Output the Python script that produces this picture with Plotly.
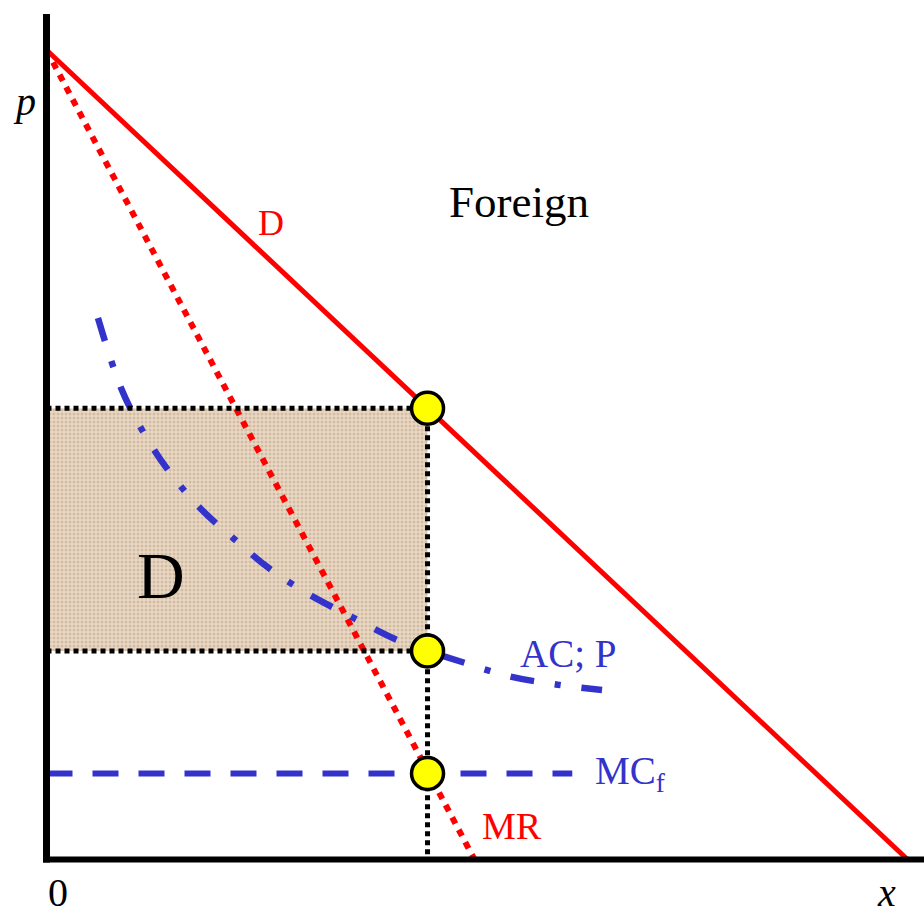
import plotly.graph_objects as go

# ---------------- data (economic units) ----------------
demand_x = [0.0, 10.0]
demand_p = [10.0, 0.0]

mr_x = [0.0, 4.97]
mr_p = [10.0, 0.0]

mc_x = [0.0, 6.11]
mc_p = [1.057, 1.057]

ac_x = [0.598, 0.866, 1.110, 1.412, 1.784, 2.167, 2.597, 3.062, 3.550, 4.050, 4.433, 4.829, 5.363, 5.886, 6.456]
ac_p = [6.687, 5.822, 5.303, 4.808, 4.339, 3.968, 3.585, 3.263, 2.991, 2.719, 2.571, 2.435, 2.262, 2.163, 2.089]

q_eq = 4.428
p_eq = 5.572
ac_eq = 2.571
mc_eq = 1.057

eq_x = [q_eq, q_eq, q_eq]
eq_p = [p_eq, ac_eq, mc_eq]

# ---------------- canvas geometry ----------------
W, H = 924, 916
OX, OY = 46.5, 859.0      # pixel position of origin
SX, SY = 86.05, 80.9      # pixels per unit

def px2x(px):
    return (px - OX) / SX

def py2y(py):
    return (OY - py) / SY

RED = "#ff0000"
BLUE = "#3333cc"
FONT = "Liberation Serif, Times New Roman, serif"

fig = go.Figure()

# shaded profit rectangle
fig.add_trace(go.Scatter(
    x=[0, q_eq, q_eq, 0, 0], y=[ac_eq, ac_eq, p_eq, p_eq, ac_eq],
    mode="lines", line=dict(width=0), fill="toself",
    fillcolor="#d8c2ab",
    fillpattern=dict(shape=".", bgcolor="#e9d8c5", fgcolor="#bf9f80",
                     size=4, solidity=0.45),
    hoverinfo="skip", showlegend=False))

# demand
fig.add_trace(go.Scatter(x=demand_x, y=demand_p, mode="lines",
                         line=dict(color=RED, width=5), showlegend=False))
# marginal revenue
fig.add_trace(go.Scatter(x=mr_x, y=mr_p, mode="lines",
                         line=dict(color=RED, width=6, dash="7px,7px"), showlegend=False))
# marginal cost
fig.add_trace(go.Scatter(x=mc_x, y=mc_p, mode="lines",
                         line=dict(color=BLUE, width=6, dash="26px,20px"), showlegend=False))
# average cost
fig.add_trace(go.Scatter(x=ac_x, y=ac_p, mode="lines",
                         line=dict(color=BLUE, width=6.5, dash="24px,21px,6px,21px", shape="spline"),
                         showlegend=False))

# dotted guide lines
dot = dict(color="black", width=5, dash="5px,4px")
fig.add_trace(go.Scatter(x=[0, q_eq], y=[p_eq, p_eq], mode="lines", line=dot, showlegend=False))
fig.add_trace(go.Scatter(x=[0, q_eq], y=[ac_eq, ac_eq], mode="lines", line=dot, showlegend=False))
fig.add_trace(go.Scatter(x=[q_eq, q_eq], y=[p_eq, 0], mode="lines", line=dot, showlegend=False))

# axes
fig.add_trace(go.Scatter(x=[px2x(OX), px2x(OX)], y=[py2y(862.5), py2y(14)], mode="lines",
                         line=dict(color="black", width=7), showlegend=False))
fig.add_trace(go.Scatter(x=[px2x(43), px2x(W + 5)], y=[py2y(859.5), py2y(859.5)], mode="lines",
                         line=dict(color="black", width=6), showlegend=False))

# equilibrium points
fig.add_trace(go.Scatter(x=eq_x, y=eq_p, mode="markers",
                         marker=dict(size=32, color="#ffff00", line=dict(color="black", width=3.5)),
                         showlegend=False))

def label(text, cx, baseline, size, color="black", italic=False, xanchor="center"):
    cy = baseline - 0.3375 * size
    fig.add_annotation(
        x=cx / W, y=1 - cy / H, xref="paper", yref="paper",
        text=f"<i>{text}</i>" if italic else text, showarrow=False,
        xanchor=xanchor, yanchor="middle",
        font=dict(family=FONT, size=size, color=color))

label("p", 24, 115, 40, italic=True)
label("0", 57.5, 906, 40)
label("x", 886, 906, 40, italic=True)
label("Foreign", 519, 217, 45)
label("D", 271, 235, 36, color=RED)
label("D", 160.5, 598, 66)
label("AC; P", 567.5, 667, 39, color=BLUE)
label("MC<sub>f</sub>", 593, 787, 39, color=BLUE, xanchor="left")
label("MR", 512, 839, 38, color=RED)

fig.update_layout(
    width=W, height=H, autosize=False,
    margin=dict(l=0, r=0, t=0, b=0),
    paper_bgcolor="white", plot_bgcolor="white",
    showlegend=False,
    xaxis=dict(range=[px2x(0), px2x(W)], visible=False, fixedrange=True),
    yaxis=dict(range=[py2y(H), py2y(0)], visible=False, fixedrange=True),
)

fig.write_html("out.html", config={"displayModeBar": False},
               post_script="document.body.style.margin='0';document.body.style.overflow='hidden';")
